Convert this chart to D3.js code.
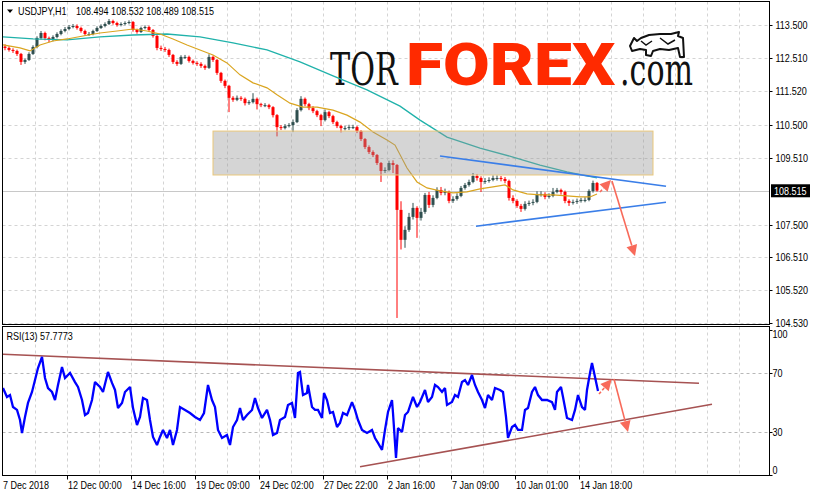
<!DOCTYPE html>
<html><head><meta charset="utf-8">
<script src="https://cdn.jsdelivr.net/npm/d3@7"></script>
<style>
body{margin:0;background:#fff}
svg{display:block}
text{font-family:"Liberation Sans",Arial,sans-serif}
</style>
</head><body>
<svg id="c" width="815" height="497"></svg>
<script>
// ---------- DATA ----------
const symbol = "USDJPY,H1";
const quote = [108.494, 108.532, 108.489, 108.515];
const lastPrice = 108.515;
const rsiLabel = "RSI(13) 57.7773";
const barHours = 4;            // each bar spans 4 hours
const firstOpen = 112.85;
const closes = [112.81,112.75,112.72,112.63,112.39,112.45,112.63,112.84,113.11,113.26,
113.11,113.05,113.14,113.23,113.32,113.38,113.44,113.47,113.41,113.32,
113.23,113.23,113.32,113.41,113.47,113.53,113.62,113.56,113.50,113.53,
113.56,113.59,113.35,113.29,113.41,113.44,113.35,113.17,112.81,112.78,
112.75,112.60,112.39,112.33,112.54,112.54,112.42,112.36,112.33,112.27,
112.21,112.54,112.45,112.06,111.82,111.67,111.31,111.25,111.31,111.28,
111.15,111.18,111.28,111.12,111.09,111.09,111.03,110.79,110.43,110.40,
110.46,110.49,110.58,110.94,111.28,111.12,111.00,110.91,110.79,110.64,
110.88,110.76,110.58,110.46,110.40,110.40,110.43,110.43,110.31,110.07,
109.83,109.68,109.59,109.35,109.11,109.14,109.35,109.29,107.94,107.04,
107.34,107.73,108.00,107.70,107.88,108.39,108.09,108.30,108.54,108.45,
108.48,108.21,108.27,108.36,108.60,108.69,108.78,108.96,108.90,108.78,
108.81,108.84,108.90,108.90,108.87,108.81,108.30,108.21,108.06,107.97,
108.12,108.15,108.18,108.42,108.42,108.33,108.36,108.48,108.54,108.48,
108.21,108.15,108.18,108.21,108.24,108.24,108.51,108.75,108.52];
const highs = [112.92,112.86,112.80,112.76,112.66,112.50,112.68,112.89,113.16,113.32,
113.30,113.15,113.19,113.28,113.37,113.44,113.50,113.53,113.52,113.45,
113.36,113.29,113.36,113.46,113.52,113.58,113.68,113.66,113.60,113.58,
113.61,113.64,113.62,113.39,113.45,113.49,113.48,113.38,113.20,112.88,
112.84,112.79,112.63,112.44,112.59,112.60,112.58,112.46,112.41,112.38,
112.31,112.62,112.58,112.48,112.09,111.86,111.70,111.36,111.38,111.36,
111.32,111.24,111.45,111.32,111.16,111.15,111.13,111.06,110.82,110.49,
110.52,110.55,110.66,111.00,111.36,111.32,111.16,111.06,110.95,110.83,
110.96,110.92,110.80,110.62,110.50,110.47,110.50,110.50,110.47,110.34,
110.10,109.88,109.73,109.62,109.38,109.22,109.42,109.43,109.32,108.20,
107.45,107.85,108.15,108.05,108.00,108.45,108.48,108.38,108.62,108.63,
108.58,108.52,108.35,108.44,108.66,108.75,108.85,109.05,109.02,108.95,
108.90,108.92,108.98,108.98,108.96,108.93,108.85,108.38,108.26,108.12,
108.20,108.22,108.26,108.50,108.50,108.47,108.44,108.60,108.60,108.58,
108.52,108.26,108.25,108.28,108.30,108.32,108.56,108.82,108.78];
const lows = [112.74,112.70,112.66,112.57,112.30,112.33,112.42,112.60,112.80,113.06,
113.04,112.98,113.01,113.10,113.19,113.28,113.34,113.40,113.36,113.27,
113.18,113.17,113.19,113.29,113.38,113.43,113.50,113.51,113.45,113.46,
113.49,113.52,113.30,113.24,113.26,113.37,113.30,113.12,112.74,112.72,
112.69,112.54,112.33,112.27,112.30,112.48,112.37,112.31,112.27,112.21,
112.15,112.18,112.39,112.00,111.76,111.60,110.88,111.19,111.21,111.22,
111.08,111.10,111.14,110.96,111.03,111.03,110.97,110.72,110.15,110.34,
110.36,110.42,110.28,110.55,110.90,111.06,110.94,110.85,110.73,110.46,
110.60,110.70,110.52,110.40,110.27,110.33,110.34,110.37,110.25,110.01,
109.77,109.62,109.53,109.29,108.78,109.05,109.10,109.05,104.69,106.75,
106.80,107.28,107.65,107.10,107.62,107.82,108.00,108.02,108.26,108.38,
108.38,108.14,108.15,108.22,108.32,108.55,108.64,108.74,108.82,108.48,
108.72,108.76,108.80,108.82,108.80,108.74,108.22,108.14,108.00,107.88,
107.92,108.06,108.08,108.14,108.34,108.26,108.28,108.32,108.44,108.40,
108.14,108.06,108.10,108.12,108.16,108.17,108.20,108.46,108.49];

// moving averages (hour index, price)
const maFastHours = [0,17,27,37,50,64,80,97,114,130,144,157,170,184,197,210,224,237,250,264,274,287,300,314,330,344,357,370,384,392,404,414,424,437,450,464,477,490,502,510,524,537,550,564,577,587,594];
const maFastVals  = [112.90,112.81,112.72,112.90,113.02,113.08,113.17,113.26,113.32,113.38,113.32,113.23,113.08,112.90,112.75,112.60,112.36,112.00,111.76,111.61,111.40,111.15,111.03,111.03,110.94,110.79,110.58,110.28,110.04,109.89,109.20,108.78,108.60,108.51,108.45,108.48,108.57,108.63,108.69,108.54,108.42,108.39,108.39,108.36,108.33,108.33,108.42];
const maSlowHours = [0,30,64,97,130,164,197,230,264,297,330,364,397,417,444,477,510,537,564,594];
const maSlowVals  = [113.14,113.08,113.05,113.14,113.20,113.23,113.14,112.96,112.75,112.39,111.97,111.55,111.06,110.64,110.13,109.80,109.53,109.29,109.08,108.90];

// RSI(13) (hour index, value)
const rsiHours = [0,4,7,10,14,17,19,22,25,29,32,35,39,42,45,49,52,55,59,62,67,72,75,79,82,85,89,92,97,100,105,109,112,115,119,122,127,130,134,137,140,144,147,150,154,157,160,164,167,170,174,177,182,187,192,197,201,205,209,212,215,219,224,227,230,234,237,240,244,249,252,255,259,264,267,270,274,277,282,285,289,292,295,297,300,304,305,309,312,315,319,321,324,327,330,334,337,340,344,349,352,355,359,364,369,372,375,379,382,385,389,390,393,395,399,402,405,410,414,417,422,425,429,432,435,439,442,444,449,452,455,459,462,465,469,472,475,479,482,485,489,492,497,500,503,505,509,512,515,519,522,525,529,532,535,539,544,549,552,554,558,560,564,569,572,575,579,582,584,587,589,592,595];
const rsiVals = [59.9,53.8,55.1,46.9,44.9,38.0,29.1,40.1,49.7,57.2,65.4,73.6,81.2,66.8,59.9,57.2,51.7,62.0,74.3,66.8,70.2,64.0,60.6,51.7,41.4,42.8,51.7,64.0,60.6,57.2,70.9,63.4,58.6,46.2,49.7,57.2,60.6,46.2,34.6,40.1,53.1,51.7,38.0,26.4,20.9,26.4,31.2,25.7,31.2,20.9,31.2,46.9,44.9,42.8,40.1,38.0,42.8,62.0,51.7,46.9,31.2,25.7,27.7,20.9,33.2,38.0,46.2,38.0,41.4,44.9,53.1,46.2,39.4,44.9,38.0,27.7,29.1,38.0,40.1,48.3,49.7,39.4,70.2,70.9,55.1,56.5,62.0,46.9,44.9,44.9,39.4,56.5,51.7,42.8,43.5,33.2,36.0,42.8,41.4,50.3,44.9,38.0,31.2,29.1,31.2,25.7,22.3,17.5,31.2,43.5,51.7,42.8,12.0,32.5,29.8,41.4,43.5,53.8,46.9,50.3,58.6,50.3,53.8,62.0,60.6,57.2,59.9,48.3,50.3,55.1,53.8,64.0,65.4,62.0,68.8,62.0,57.2,51.7,46.2,55.1,51.7,59.9,58.6,57.2,40.1,25.7,33.2,34.6,31.2,31.2,44.9,46.2,57.2,60.6,55.1,51.7,51.7,50.3,44.9,57.2,60.6,53.8,39.4,38.0,44.9,55.1,46.9,44.9,58.6,70.2,77.1,67.4,57.8];

// axis ticks
const priceTicks = [113.5,112.51,111.52,110.5,109.51,107.5,106.51,105.52,104.53];
const rsiTicks = [100,70,30,0];
const rsiGrid = [70,30];
const timeTickHours = [0,64,128,192,256,320,384,448,512,576];
const timeTickLabels = ["7 Dec 2018","12 Dec 00:00","14 Dec 16:00","19 Dec 09:00","24 Dec 02:00","27 Dec 22:00","2 Jan 16:00","7 Jan 09:00","10 Jan 01:00","14 Jan 18:00"];

// annotations in data coordinates [hour, value]
const zone = {h0:210, h1:650, p0:110.31, p1:108.99};
const priceTrendUpper = [[437,109.56],[663,108.65]];
const priceTrendLower = [[473,107.45],[663,108.17]];
const priceArrowShort = [[597,108.48],[608,108.84]];
const priceArrowLong  = [[609,108.81],[632,106.55]];
const rsiTrendUpper = [[0,83.0],[696,63.2]];
const rsiTrendLower = [[357,6.0],[709,48.8]];
const rsiArrowShort = [[596,55.8],[608.7,65.9]];
const rsiArrowLong  = [[611,66.1],[625,29.8]];

// ---------- LAYOUT ----------
const L = 2.5, R = 769.5, mainTop = 1.5, mainBot = 324.5, rsiTop = 326.5, rsiBot = 475.5;
const svg = d3.select("#c");
const x = d3.scaleLinear().domain([0,767]).range([3,770]);
const y = d3.scaleLinear().domain([104.53,113.5]).range([323.3,25]);
const yr = d3.scaleLinear().domain([0,100]).range([475.5,329.5]);

function uiText(g, tx, ty, s, fill){
  return g.append("text").attr("transform",`translate(${tx},${ty}) scale(0.86,1)`)
    .attr("font-size",10.5).attr("fill",fill||"#000").text(s);
}
// text fitted to a target box (width, cap height) via transform
function fitText(g, s, x0, base, w, fsize, family, weight, fill, sy){
  const t = g.append("text").attr("x",0).attr("y",0).style("font-family",family)
    .attr("font-weight",weight).attr("font-size",fsize).attr("fill",fill).text(s);
  const bb = t.node().getBBox();
  const sx = w / bb.width;
  t.attr("transform",`translate(${x0 - bb.x*sx},${base}) scale(${sx},${sy})`);
  return t;
}

const defs = svg.append("defs");
defs.append("clipPath").attr("id","cm").append("rect").attr("x",L).attr("y",mainTop).attr("width",R-L).attr("height",mainBot-mainTop);
defs.append("clipPath").attr("id","cr").append("rect").attr("x",L).attr("y",rsiTop).attr("width",R-L).attr("height",rsiBot-rsiTop);

const gridColor = "#d4d4d4";
const vgrid = d3.range(32, 767, 32);
[[mainTop,mainBot],[rsiTop,rsiBot]].forEach(([t,b])=>{
  svg.append("g").selectAll("line").data(vgrid).join("line")
    .attr("x1",d=>Math.round(x(d))+0.5).attr("x2",d=>Math.round(x(d))+0.5)
    .attr("y1",t).attr("y2",b).attr("stroke",gridColor).attr("stroke-dasharray","3,3");
});
svg.append("g").selectAll("line").data(priceTicks).join("line")
  .attr("x1",L).attr("x2",R).attr("y1",d=>Math.round(y(d))+0.5).attr("y2",d=>Math.round(y(d))+0.5)
  .attr("stroke",gridColor).attr("stroke-dasharray","3,3");
svg.append("g").selectAll("line").data(rsiGrid).join("line")
  .attr("x1",L).attr("x2",R).attr("y1",d=>Math.round(yr(d))+0.5).attr("y2",d=>Math.round(yr(d))+0.5)
  .attr("stroke","#b8b8b8").attr("stroke-dasharray","3,3");

svg.append("line").attr("x1",L).attr("x2",R).attr("y1",Math.round(y(lastPrice))+0.5).attr("y2",Math.round(y(lastPrice))+0.5)
  .attr("stroke","#c8c8c8");

// ---------- LOGO ----------
const logo = svg.append("g");
const slab = "'DejaVu Serif','Liberation Serif',serif";
fitText(logo, "TOR", 330, 85, 69, 44, slab, "normal", "#111", 1);
fitText(logo, "FOREX", 406, 85, 210, 60, "Roboto,'Open Sans',sans-serif", 900, "#ff2a00", 1);
fitText(logo, ".com", 620, 85, 73, 44, slab, "normal", "#111", 1);
logo.append("path")
  .attr("d","M630,46 L634,38 L637,41 L641,38 L649,35 L660,34 L671,34 L679,32 L678,36 L683,38 L684,57 L680,57 L678,48 L669,50 L660,49 L653,51 L651,56 L646,55 L646,50 L640,49 L632,51 Z")
  .attr("fill","#fff").attr("stroke","#111").attr("stroke-width",2).attr("stroke-linejoin","round");
logo.append("path").attr("d","M641,41 L646,45 L652,41 M660,38 L668,44 L675,40")
  .attr("fill","none").attr("stroke","#111").attr("stroke-width",1.5);

// ---------- CANDLES ----------
const mainG = svg.append("g").attr("clip-path","url(#cm)");
const bars = closes.map((c,i)=>({i, o: i? closes[i-1] : firstOpen, c, h: highs[i], l: lows[i]}));
const bull = "#2f4f4f", bear = "#ff0000";
const cg = mainG.append("g");
cg.selectAll("line").data(bars).join("line")
  .attr("x1",d=>x(d.i*barHours+2)).attr("x2",d=>x(d.i*barHours+2))
  .attr("y1",d=>y(d.h)).attr("y2",d=>y(d.l))
  .attr("stroke",d=>d.c>=d.o?bull:bear).attr("stroke-width",1);
cg.selectAll("rect").data(bars).join("rect")
  .attr("x",d=>x(d.i*barHours+0.5)).attr("width",3)
  .attr("y",d=>y(Math.max(d.o,d.c))).attr("height",d=>Math.max(1,Math.abs(y(d.o)-y(d.c))))
  .attr("fill",d=>d.c>=d.o?bull:bear);

const lineHP = d3.line().x(d=>x(d[0])).y(d=>y(d[1]));
mainG.append("path").datum(maSlowHours.map((h,i)=>[h,maSlowVals[i]])).attr("d",lineHP)
  .attr("fill","none").attr("stroke","#20b2aa").attr("stroke-width",1.3);
mainG.append("path").datum(maFastHours.map((h,i)=>[h,maFastVals[i]])).attr("d",lineHP)
  .attr("fill","none").attr("stroke","#daa520").attr("stroke-width",1.2);

mainG.append("rect").attr("x",x(zone.h0)).attr("width",x(zone.h1)-x(zone.h0))
  .attr("y",y(zone.p0)).attr("height",y(zone.p1)-y(zone.p0))
  .attr("fill","rgb(150,150,150)").attr("fill-opacity",0.4)
  .attr("stroke","#e9c77a").attr("stroke-width",1);

[priceTrendUpper, priceTrendLower].forEach(t=>{
  mainG.append("path").datum(t).attr("d",lineHP).attr("fill","none")
    .attr("stroke","#3a7ee8").attr("stroke-width",1.6);
});

function arrow(g, pts, sx, sy, dashed){
  const x0=sx(pts[0][0]), y0=sy(pts[0][1]), x1=sx(pts[1][0]), y1=sy(pts[1][1]);
  const dx=x1-x0, dy=y1-y0, len=Math.hypot(dx,dy), ux=dx/len, uy=dy/len;
  const hl=11, hw=5.5;
  const bx=x1-ux*hl, by=y1-uy*hl;
  g.append("line").attr("x1",x0).attr("y1",y0).attr("x2",bx).attr("y2",by)
    .attr("stroke","#f86a5a").attr("stroke-width",1.6).attr("stroke-dasharray",dashed?"3,2":null);
  g.append("path").attr("d",`M${x1},${y1} L${bx-uy*hw},${by+ux*hw} L${bx+uy*hw},${by-ux*hw} Z`)
    .attr("fill","#f86a5a");
}
arrow(mainG, priceArrowShort, x, y, true);
arrow(mainG, priceArrowLong, x, y, false);

// ---------- RSI ----------
const rsiG = svg.append("g").attr("clip-path","url(#cr)");
const lineR = d3.line().x(d=>x(d[0])).y(d=>yr(d[1]));
[rsiTrendUpper, rsiTrendLower].forEach(t=>{
  rsiG.append("path").datum(t).attr("d",lineR).attr("fill","none")
    .attr("stroke","#a65252").attr("stroke-width",1.6);
});
rsiG.append("path").datum(rsiHours.map((h,i)=>[h,rsiVals[i]])).attr("d",lineR)
  .attr("fill","none").attr("stroke","#0000ff").attr("stroke-width",2.3).attr("stroke-linejoin","miter").attr("stroke-miterlimit",2);
arrow(rsiG, rsiArrowShort, x, yr, true);
arrow(rsiG, rsiArrowLong, x, yr, false);

// ---------- FRAMES & AXES ----------
svg.append("rect").attr("x",L).attr("y",mainTop).attr("width",R-L).attr("height",mainBot-mainTop)
  .attr("fill","none").attr("stroke","#000");
svg.append("rect").attr("x",L).attr("y",rsiTop).attr("width",R-L).attr("height",rsiBot-rsiTop)
  .attr("fill","none").attr("stroke","#000");

const pa = svg.append("g");
pa.selectAll("line").data(priceTicks).join("line")
  .attr("x1",R).attr("x2",R+3).attr("y1",d=>Math.round(y(d))+0.5).attr("y2",d=>Math.round(y(d))+0.5).attr("stroke","#000");
priceTicks.forEach(d=>uiText(pa, 775.5, y(d)+4, d3.format(".3f")(d)));
svg.append("rect").attr("x",771).attr("y",y(lastPrice)-6.5).attr("width",39).attr("height",13).attr("fill","#000");
uiText(svg, 774, y(lastPrice)+4, d3.format(".3f")(lastPrice), "#fff");

const ra = svg.append("g");
rsiTicks.forEach(d=>uiText(ra, 772.5, Math.min(Math.max(yr(d),334),469.5)+4, String(d)));
ra.selectAll("line").data(rsiTicks).join("line")
  .attr("x1",R).attr("x2",R+3).attr("y1",d=>Math.round(Math.min(Math.max(yr(d),330),475))+0.5).attr("y2",d=>Math.round(Math.min(Math.max(yr(d),330),475))+0.5).attr("stroke","#000");

const ta = svg.append("g");
ta.selectAll("line").data(timeTickHours.slice(1)).join("line")
  .attr("x1",d=>Math.round(x(d))+0.5).attr("x2",d=>Math.round(x(d))+0.5).attr("y1",rsiBot).attr("y2",rsiBot+4).attr("stroke","#000");
timeTickHours.forEach((d,i)=>uiText(ta, i? x(d)+1 : x(d), 489, timeTickLabels[i]));

svg.append("path").attr("d","M7,9.5 L13,9.5 L10,13 Z").attr("fill","#000");
uiText(svg, 18, 14.5, symbol);
uiText(svg, 76, 14.5, quote.map(d3.format(".3f")).join(" "));
uiText(svg, 6.5, 339.5, rsiLabel);
</script>
</body></html>
